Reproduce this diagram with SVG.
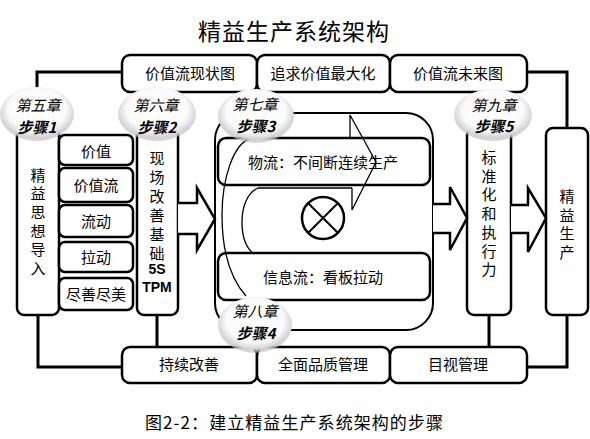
<svg xmlns="http://www.w3.org/2000/svg" width="590" height="439" viewBox="0 0 590 439">
<defs>
<radialGradient id="bub" cx="50%" cy="42%" r="56%">
<stop offset="0" stop-color="#ffffff"/>
<stop offset="0.7" stop-color="#fafafa"/>
<stop offset="0.9" stop-color="#d6d6d6"/>
<stop offset="1" stop-color="#bdbdbd" stop-opacity="0.6"/>
</radialGradient>
<style>
.box{fill:#fff;stroke:#000;stroke-width:2.5}
.thin{fill:none;stroke:#000;stroke-width:1.3}
.line{fill:none;stroke:#000;stroke-width:3}
.barrow{fill:#fff;stroke:#000;stroke-width:2.5;stroke-linejoin:miter}
.t{font-family:"Noto Sans CJK SC","Noto Sans",sans-serif;font-size:15px;fill:#000;text-anchor:middle}
.en{font-family:"Liberation Sans",Arial,sans-serif;font-size:14px;font-weight:bold;fill:#000;text-anchor:middle}
.step{font-family:"Noto Sans CJK SC",sans-serif;font-size:15px;font-style:italic;fill:#000;text-anchor:middle}
.stepb{font-family:"Noto Sans CJK SC",sans-serif;font-size:15px;font-style:italic;font-weight:bold;fill:#000;text-anchor:middle}
.bubble{fill:url(#bub)}
</style>
</defs>
<rect width="590" height="439" fill="#fff"/>
<text x="294" y="40" font-family="'Noto Sans CJK SC',sans-serif" font-size="23" letter-spacing="1" text-anchor="middle" fill="#000">精益生产系统架构</text>

<g id="connectors">
<polyline class="line" points="122,72 37,72 37,128"/>
<polyline class="line" points="527,72 567,72 567,128"/>
<polyline class="line" points="38,315 38,367 122,367"/>
<polyline class="line" points="157,315 157,347"/>
<polyline class="line" points="489,315 489,347"/>
<polyline class="line" points="527,367 567,367 567,315"/>
</g>

<g id="top1"><rect class="box" x="122" y="55" width="135" height="37" rx="8"/><text class="t" x="190" y="79">价值流现状图</text></g>
<g id="top2"><rect class="box" x="257" y="55" width="133" height="37" rx="8"/><text class="t" x="323" y="79">追求价值最大化</text></g>
<g id="top3"><rect class="box" x="390" y="55" width="137" height="37" rx="8"/><text class="t" x="458" y="79">价值流未来图</text></g>

<g id="bot1"><rect class="box" x="122" y="347" width="135" height="36" rx="8"/><text class="t" x="189" y="370">持续改善</text></g>
<g id="bot2"><rect class="box" x="257" y="347" width="133" height="36" rx="8"/><text class="t" x="323" y="370">全面品质管理</text></g>
<g id="bot3"><rect class="box" x="390" y="347" width="137" height="36" rx="8"/><text class="t" x="458" y="370">目视管理</text></g>

<g id="lean-thinking">
<rect class="box" x="17" y="128" width="42" height="187" rx="7"/>
<text class="t" x="38" y="180.5"><tspan x="38">精</tspan><tspan x="38" dy="18.7">益</tspan><tspan x="38" dy="18.7">思</tspan><tspan x="38" dy="18.7">想</tspan><tspan x="38" dy="18.7">导</tspan><tspan x="38" dy="18.7">入</tspan></text>
</g>
<g id="principles">
<rect class="box" x="59" y="135" width="74" height="30" rx="6"/><text class="t" x="96" y="157">价值</text>
<rect class="box" x="59" y="168" width="74" height="34" rx="6"/><text class="t" x="96" y="191">价值流</text>
<rect class="box" x="59" y="205" width="74" height="32" rx="6"/><text class="t" x="96" y="227">流动</text>
<rect class="box" x="59" y="242" width="74" height="30" rx="6"/><text class="t" x="96" y="263">拉动</text>
<rect class="box" x="59" y="278" width="74" height="32" rx="6"/><text class="t" x="96" y="300">尽善尽美</text>
</g>
<g id="site-basis">
<rect class="box" x="137" y="128" width="41" height="187" rx="7"/>
<text class="t" x="157" y="163.5"><tspan x="157">现</tspan><tspan x="157" dy="19">场</tspan><tspan x="157" dy="19">改</tspan><tspan x="157" dy="19">善</tspan><tspan x="157" dy="19">基</tspan><tspan x="157" dy="19">础</tspan></text>
<text class="en" x="157" y="274">5S</text>
<text class="en" x="157" y="292">TPM</text>
</g>

<g id="flow-core">
<rect fill="#fff" stroke="#000" stroke-width="2" x="215" y="113" width="218" height="217" rx="27"/>
<rect class="box" x="218" y="138" width="212" height="47" rx="8"/>
<text class="t" x="323" y="168">物流：不间断连续生产</text>
<rect class="box" x="218" y="253" width="212" height="47" rx="8"/>
<text class="t" x="323" y="283">信息流：看板拉动</text>
<path class="thin" d="M350,138 L252,138 C233,142 222,180 222,215 C222,250 230,278 246,296"/>
<path class="thin" d="M352,188 L258,188 C247,193 242,207 242,222 C242,238 246,248 254,254"/>
<path class="thin" d="M350,138 L350,115 L376,162 L352,210 L352,188"/>
<circle cx="323" cy="218" r="21" fill="#fff" stroke="#000" stroke-width="2.5"/>
<path d="M308,203 L338,233 M338,203 L308,233" stroke="#000" stroke-width="2"/>
</g>

<g id="standard">
<rect class="box" x="467" y="128" width="44" height="187" rx="7"/>
<text class="t" x="489" y="163"><tspan x="489">标</tspan><tspan x="489" dy="18.7">准</tspan><tspan x="489" dy="18.7">化</tspan><tspan x="489" dy="18.7">和</tspan><tspan x="489" dy="18.7">执</tspan><tspan x="489" dy="18.7">行</tspan><tspan x="489" dy="18.7">力</tspan></text>
</g>
<g id="lean-production">
<rect class="box" x="546" y="128" width="42" height="187" rx="7"/>
<text class="t" x="567" y="202"><tspan x="567">精</tspan><tspan x="567" dy="18.7">益</tspan><tspan x="567" dy="18.7">生</tspan><tspan x="567" dy="18.7">产</tspan></text>
</g>

<g id="block-arrows">
<path class="barrow" d="M178,203 L197,203 L197,188 L215,219 L197,250 L197,234 L178,234"/>
<path class="barrow" d="M433,204 L450,204 L450,187 L467,218 L450,250 L450,233 L433,233"/>
<path class="barrow" d="M511,205 L528,205 L528,188 L546,218 L528,252 L528,233 L511,233"/>
</g>

<g id="step1"><ellipse class="bubble" cx="37" cy="114" rx="37" ry="27"/><text class="step" x="38" y="111">第五章</text><text class="stepb" x="37" y="133">步骤1</text></g>
<g id="step2"><ellipse class="bubble" cx="157" cy="114" rx="39" ry="27"/><text class="step" x="156" y="111">第六章</text><text class="stepb" x="157" y="133">步骤2</text></g>
<g id="step3"><ellipse class="bubble" cx="256" cy="116" rx="38" ry="27"/><text class="step" x="255" y="110">第七章</text><text class="stepb" x="256" y="132">步骤3</text></g>
<g id="step4"><ellipse class="bubble" cx="255" cy="325" rx="37" ry="28"/><text class="step" x="255" y="317">第八章</text><text class="stepb" x="256" y="339">步骤4</text></g>
<g id="step5"><ellipse class="bubble" cx="493" cy="115" rx="39" ry="26"/><text class="step" x="494" y="111">第九章</text><text class="stepb" x="494" y="132">步骤5</text></g>

<text x="294" y="429" font-family="'Noto Sans CJK SC',sans-serif" font-size="17" text-anchor="middle" fill="#000" textLength="298" lengthAdjust="spacing">图2-2：建立精益生产系统架构的步骤</text>
</svg>
